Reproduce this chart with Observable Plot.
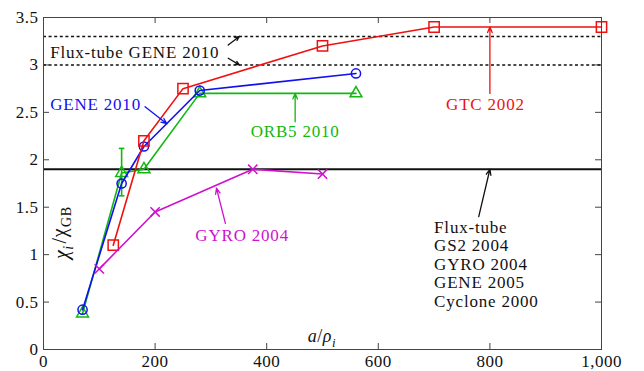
<!DOCTYPE html>
<html><head><meta charset="utf-8">
<script src="https://cdn.jsdelivr.net/npm/d3@7"></script>
<script src="https://cdn.jsdelivr.net/npm/@observablehq/plot@0.6"></script>
<style>
html,body{margin:0;padding:0;background:#fff;}
#chart svg{font-family:"Liberation Serif", serif !important;}
#chart svg text, #chart svg tspan{font-family:"Liberation Serif", serif !important;letter-spacing:0.5px;}
#chart svg g.anno text{letter-spacing:0.8px;}
</style>
</head><body><div id="chart"></div>
<script>
// ---- data ----
const xTicks = [0, 200, 400, 600, 800, 1000];
const yTicks = [0, 0.5, 1, 1.5, 2, 2.5, 3, 3.5];
const yTickLabels = ["0", "0.5", "1", "1.5", "2", "2.5", "3", "3.5"];

const gtcX = [125, 180, 250, 500, 700, 1000];
const gtcY = [1.1, 2.2, 2.75, 3.2, 3.4, 3.4];
const geneX = [70, 140, 180, 280, 560];
const geneY = [0.42, 1.75, 2.14, 2.73, 2.91];
const orb5X = [70, 140, 180, 280, 560];
const orb5Y = [0.38, 1.86, 1.9, 2.7, 2.7];
const orb5ErrX = [140];
const orb5ErrLo = [1.62];
const orb5ErrHi = [2.12];
const gyroX = [100, 200, 375, 500];
const gyroY = [0.85, 1.45, 1.9, 1.85];

const fluxTubeLevel = [1.9];
const fluxTubeGeneLevels = [3.0, 3.3];

const labelTexts = ["Flux-tube GENE 2010", "GENE 2010", "ORB5 2010", "GTC 2002", "GYRO 2004",
  "Flux-tube", "GS2 2004", "GYRO 2004", "GENE 2005", "Cyclone 2000"];
const labelX = [12, 12, 451, 792, 356, 700, 700, 700, 700, 700];
const labelY = [3.13, 2.58, 2.295, 2.586, 1.2, 1.29, 1.095, 0.9, 0.705, 0.51];
const labelColor = ["black", "blue", "green", "red", "magenta", "black", "black", "black", "black", "black"];
const labelAnchor = ["start", "start", "middle", "middle", "middle", "start", "start", "start", "start", "start"];

const arrowX1 = [331, 331, 182, 451, 800, 326, 780];
const arrowY1 = [3.21, 3.07, 2.56, 2.4, 2.7, 1.33, 1.4];
const arrowX2 = [351, 351, 221, 451, 800, 310, 800];
const arrowY2 = [3.3, 3.0, 2.38, 2.7, 3.4, 1.7, 1.9];
const arrowColor = ["black", "black", "blue", "green", "red", "magenta", "black"];

const yLabelParts = ["χ", "i", "/χ", "GB"];
const xLabelParts = ["a", "/", "ρ", "i"];

// ---- colours ----
const colors = {black: "#111", blue: "#1010f0", green: "#10b810", red: "#f01010", magenta: "#d010d0"};

// ---- tables ----
const gtc = gtcX.map((x, i) => ({x, y: gtcY[i]}));
const gene = geneX.map((x, i) => ({x, y: geneY[i]}));
const orb5 = orb5X.map((x, i) => ({x, y: orb5Y[i]}));
const gyro = gyroX.map((x, i) => ({x, y: gyroY[i]}));
const err = orb5ErrX.map((x, i) => ({x, lo: orb5ErrLo[i], hi: orb5ErrHi[i]}));
const labels = labelTexts.map((t, i) => ({t, x: labelX[i], y: labelY[i], c: colors[labelColor[i]], a: labelAnchor[i]}));
const arrows = arrowX1.map((x1, i) => ({x1, y1: arrowY1[i], x2: arrowX2[i], y2: arrowY2[i], c: colors[arrowColor[i]]}));

const W = 644, H = 371, mL = 43, mR = 43, mT = 17, mB = 22;
const frameW = W - mL - mR, frameH = H - mT - mB, tk = 6;
const capHalf = 5;
const frameColor = "#444";

function series(data, color, symbol, r) {
  return [
    Plot.line(data, {x: "x", y: "y", stroke: color, strokeWidth: 1.6}),
    Plot.dot(data, {x: "x", y: "y", stroke: color, fill: "none", symbol, r, strokeWidth: 1.5})
  ];
}

const chart = Plot.plot({
  width: W, height: H,
  marginLeft: mL, marginRight: mR, marginTop: mT, marginBottom: mB,
  style: {fontSize: "17px", background: "white", color: "#111"},
  x: {domain: [0, 1000]},
  y: {domain: [0, 3.5]},
  marks: [
    Plot.axisX({ticks: xTicks, tickSize: 0, tickPadding: 5, label: null, fontSize: 17}),
    Plot.axisY({ticks: yTicks, tickSize: 0, tickPadding: 5, label: null, fontSize: 17,
      tickFormat: d => yTickLabels[yTicks.indexOf(d)]}),
    Plot.tickX(xTicks, {x: d => d, insetTop: frameH - tk, stroke: frameColor}),
    Plot.tickX(xTicks, {x: d => d, insetBottom: frameH - tk, stroke: frameColor}),
    Plot.tickY(yTicks, {y: d => d, insetRight: frameW - tk, stroke: frameColor}),
    Plot.tickY(yTicks, {y: d => d, insetLeft: frameW - tk, stroke: frameColor}),
    Plot.ruleY(fluxTubeLevel, {y: d => d, stroke: "#111", strokeWidth: 2}),
    Plot.ruleY(fluxTubeGeneLevels, {y: d => d, stroke: "#111", strokeWidth: 1.6, strokeDasharray: "3,2.6"}),
    ...series(orb5, colors.green, "triangle", 4.4),
    Plot.link(err, {x1: "x", x2: "x", y1: "lo", y2: "hi", stroke: colors.green, strokeWidth: 1.6}),
    Plot.link(err, {x1: d => d.x - capHalf, x2: d => d.x + capHalf, y1: "lo", y2: "lo", stroke: colors.green, strokeWidth: 1.6}),
    Plot.link(err, {x1: d => d.x - capHalf, x2: d => d.x + capHalf, y1: "hi", y2: "hi", stroke: colors.green, strokeWidth: 1.6}),
    ...series(gene, colors.blue, "circle", 4.6),
    ...series(gtc, colors.red, "square", 5.8),
    ...series(gyro, colors.magenta, "times", 4.3),
    Plot.arrow(arrows, {x1: "x1", y1: "y1", x2: "x2", y2: "y2", stroke: "c", strokeWidth: 1.3, headLength: 7, headAngle: 45}),
    Plot.text(labels.filter(d => d.a === "start"), {x: "x", y: "y", text: "t", fill: "c", textAnchor: "start", fontSize: 17, className: "anno"}),
    Plot.text(labels.filter(d => d.a === "middle"), {x: "x", y: "y", text: "t", fill: "c", textAnchor: "middle", fontSize: 17, className: "anno"}),
    Plot.text(["YLABEL"], {x: 33, y: 1.23, text: d => d, rotate: -90, fill: "#111", fontSize: 20}),
    Plot.text(["XLABEL"], {x: 499, y: 0.137, text: d => d, fill: "#111", fontSize: 18}),
    Plot.frame({stroke: frameColor, strokeWidth: 1})
  ]
});

// rich-text axis labels with sub-scripts
d3.select(chart).selectAll("text").each(function () {
  const t = d3.select(this);
  const s = t.text();
  if (s === "YLABEL") {
    t.text(null);
    t.append("tspan").attr("font-style", "italic").text(yLabelParts[0]);
    t.append("tspan").attr("font-size", "14px").attr("font-style", "italic").attr("dy", "0.35em").text(yLabelParts[1]);
    t.append("tspan").attr("dy", "-0.35em").attr("dx", "2").text(yLabelParts[2]);
    t.append("tspan").attr("font-size", "14px").attr("dy", "0.35em").attr("dx", "1").text(yLabelParts[3]);
  } else if (s === "XLABEL") {
    t.text(null);
    t.append("tspan").attr("font-style", "italic").text(xLabelParts[0]);
    t.append("tspan").text(xLabelParts[1]);
    t.append("tspan").attr("font-style", "italic").text(xLabelParts[2]);
    t.append("tspan").attr("font-size", "13px").attr("font-style", "italic").attr("dy", "0.35em").text(xLabelParts[3]);
  }
});

document.getElementById("chart").appendChild(chart);
</script>
</body></html>
